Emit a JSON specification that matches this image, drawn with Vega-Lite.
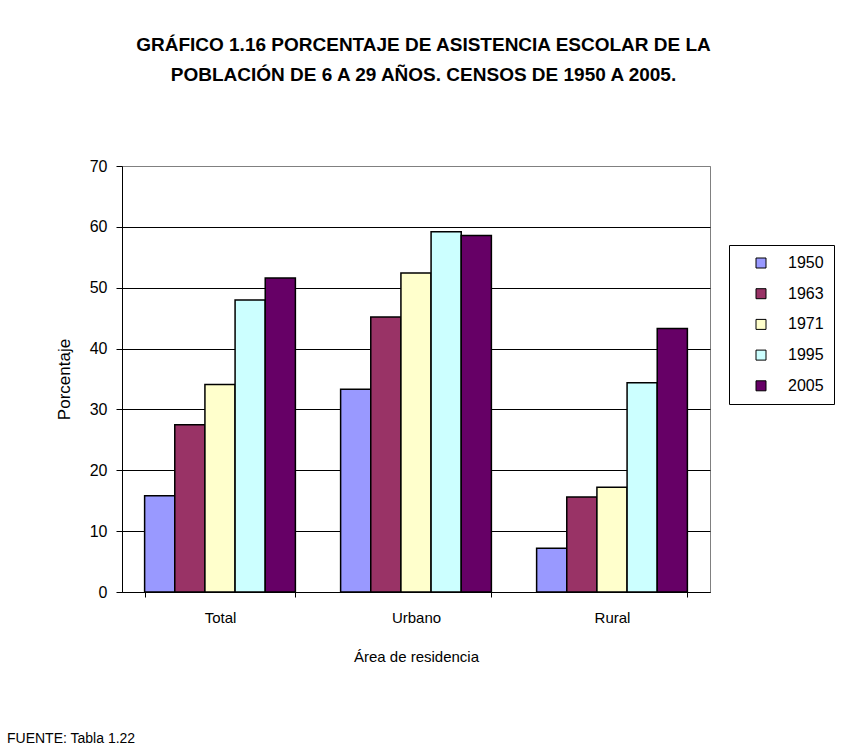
{
  "$schema": "https://vega.github.io/schema/vega-lite/v6.json",
  "autosize": {"type": "none"},
  "padding": {"left": 122, "top": 166, "right": 721, "bottom": 585},
  "background": "white",
  "config": {
    "font": "Liberation Sans",
    "view": {"stroke": "#808080", "strokeWidth": 1},
    "axis": {"labelColor": "black", "titleColor": "black", "titleFontWeight": "normal", "domainColor": "black", "tickColor": "black", "domainWidth": 1, "tickWidth": 1},
    "legend": {"labelColor": "black"},
    "title": {"color": "black"}
  },
  "title": {
    "text": ["GRÁFICO 1.16 PORCENTAJE DE ASISTENCIA ESCOLAR DE LA", "POBLACIÓN DE 6 A 29 AÑOS. CENSOS DE 1950 A 2005."],
    "anchor": "start",
    "align": "center",
    "dx": 417,
    "fontSize": 19,
    "fontWeight": "bold",
    "lineHeight": 30,
    "offset": 73
  },
  "vconcat": [
    {
      "width": 588,
      "height": 426,
      "title": {
        "text": "FUENTE: Tabla 1.22",
        "orient": "bottom",
        "anchor": "start",
        "frame": "group",
        "align": "left",
        "dx": -115,
        "offset": 68,
        "fontSize": 14,
        "fontWeight": "normal"
      },
      "data": {
        "values": [
          {"area": "Total", "year": "1950", "value": 15.8},
          {"area": "Total", "year": "1963", "value": 27.5},
          {"area": "Total", "year": "1971", "value": 34.1},
          {"area": "Total", "year": "1995", "value": 48.0},
          {"area": "Total", "year": "2005", "value": 51.6},
          {"area": "Urbano", "year": "1950", "value": 33.3},
          {"area": "Urbano", "year": "1963", "value": 45.2},
          {"area": "Urbano", "year": "1971", "value": 52.4},
          {"area": "Urbano", "year": "1995", "value": 59.2},
          {"area": "Urbano", "year": "2005", "value": 58.6},
          {"area": "Rural", "year": "1950", "value": 7.2},
          {"area": "Rural", "year": "1963", "value": 15.6},
          {"area": "Rural", "year": "1971", "value": 17.2},
          {"area": "Rural", "year": "1995", "value": 34.4},
          {"area": "Rural", "year": "2005", "value": 43.3}
        ]
      },
      "mark": {"type": "bar", "stroke": "black", "strokeWidth": 1.5},
      "encoding": {
        "x": {
          "field": "area",
          "type": "nominal",
          "sort": ["Total", "Urbano", "Rural"],
          "scale": {"paddingInner": 0.2308, "paddingOuter": 0.1154},
          "axis": {
            "title": "Área de residencia",
            "labelAngle": 0,
            "tickBand": "extent",
            "tickSize": 5,
            "labelPadding": 13,
            "titlePadding": 24,
            "labelFontSize": 15,
            "titleFontSize": 15,
            "grid": false
          }
        },
        "xOffset": {
          "field": "year",
          "type": "nominal",
          "scale": {"paddingInner": 0, "paddingOuter": 0}
        },
        "y": {
          "field": "value",
          "type": "quantitative",
          "scale": {"domain": [0, 70], "nice": false},
          "axis": {
            "title": "Porcentaje",
            "values": [0, 10, 20, 30, 40, 50, 60, 70],
            "tickSize": 6,
            "labelPadding": 9,
            "titlePadding": 16,
            "labelFontSize": 16,
            "titleFontSize": 17,
            "grid": true,
            "gridColor": {"condition": {"test": "datum.value == 70", "value": "#808080"}, "value": "black"},
            "gridWidth": 1
          }
        },
        "color": {
          "field": "year",
          "type": "nominal",
          "scale": {
            "domain": ["1950", "1963", "1971", "1995", "2005"],
            "range": ["#9999FF", "#993366", "#FFFFCC", "#CCFFFF", "#660066"]
          },
          "legend": {
            "title": null,
            "orient": "none",
            "legendX": 607,
            "legendY": 79,
            "strokeColor": "black",
            "fillColor": "white",
            "padding": 10,
            "symbolType": "square",
            "symbolSize": 100,
            "symbolStrokeColor": "black",
            "symbolStrokeWidth": 1,
            "symbolOpacity": 1,
            "symbolOffset": 14,
            "labelOffset": 19,
            "labelFontSize": 16,
            "rowPadding": 14.7
          }
        }
      }
    }
  ]
}
